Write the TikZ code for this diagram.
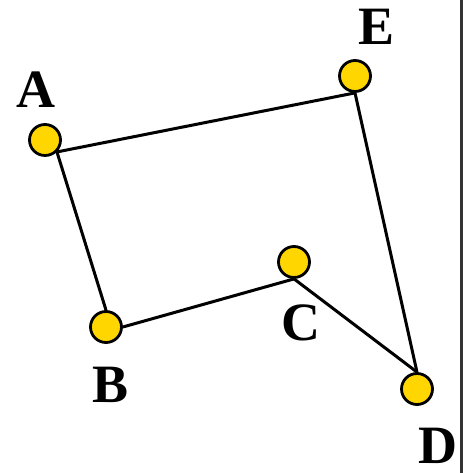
\documentclass[tikz,border=0pt]{standalone}
\usepackage{fontspec}
\setmainfont{Liberation Serif}
\usetikzlibrary{positioning}
\definecolor{dotgold}{RGB}{255,214,0}
\tikzset{>=latex}
\tikzset{dot/.style={circle, draw=black, fill=dotgold, line width=2.8pt,
    minimum size=31pt, inner sep=0pt},
  letter/.style={inner sep=0pt, font=\fontsize{54}{54}\selectfont\bfseries}}

\begin{document}
\begin{tikzpicture}[x=1pt, y=1pt, line width=3pt]
  \useasboundingbox (0,0) rectangle (464,473);
  % the dots
  \node[dot] (A) at (45,333) {};
  \node[dot] (E) at (355,397) {};
  \node[dot] (B) at (106,146) {};
  \node[dot] (C) at (294,211) {};
  \node[dot] (D) at (417,84) {};
  % the letters
  \node[letter] (lA) at (35.5,383) {A};
  \node[letter] (lE) at (376.5,446) {E};
  \node[letter] (lB) at (110.5,88) {B};
  \node[letter] (lC) at (300.5,150) {C};
  \node[letter] (lD) at (437.5,27) {D};
  % the path
  \draw (A.south east) -- (E.south);
  \draw (A.south east) -- (B.north);
  \draw (B.east) -- (C.south);
  \draw (C.south) -- (D.north);
  \draw (E.south) -- (D.north);
  % right edge
  \coordinate (top) at (461,473);
  \coordinate (bot) at (461,0);
  \draw[black!80] (top) -- (bot);
\end{tikzpicture}
\end{document}
